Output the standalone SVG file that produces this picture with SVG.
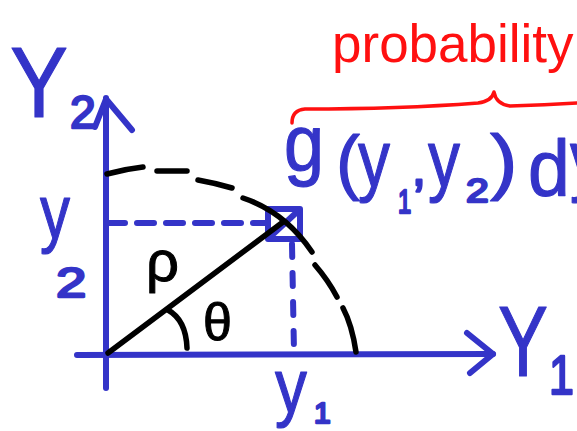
<svg xmlns="http://www.w3.org/2000/svg" width="577" height="431" viewBox="0 0 577 431">
<style>
.b{stroke:#3434C8;stroke-width:6;fill:none;stroke-linecap:round;stroke-linejoin:round}
.k{stroke:#000;stroke-width:5.5;fill:none;stroke-linecap:round;stroke-linejoin:round}
.r{stroke:#FF1010;stroke-width:3.5;fill:none;stroke-linecap:round;stroke-linejoin:round}
.tb{fill:#3434C8;stroke:#3434C8;stroke-width:1.2;stroke-linejoin:round;font-family:"Liberation Sans","DejaVu Sans",sans-serif}
.ts{stroke-width:2.4}
.tk{fill:#000;stroke:#000;stroke-width:1;stroke-linejoin:round;font-family:"Liberation Sans","DejaVu Sans",sans-serif}
.tr{fill:#FF1010;font-family:"Liberation Sans","DejaVu Sans",sans-serif}
</style>
<rect width="577" height="431" fill="#fff"/>
<g id="axes">
<path class="b" d="M106,98 L106,388"/>
<path class="b" d="M95,127 L106,99 L132,130"/>
<path class="b" d="M77,355 L493,354"/>
<path class="b" d="M467,333 L493,354 L470,373"/>
</g>
<g id="guides">
<path class="b" d="M108,223 L268,223" stroke-dasharray="17 12"/>
<path class="b" d="M292,244 L294,352" stroke-dasharray="13 16" stroke-width="5.5"/>
<rect id="cell" class="b" x="268" y="209" width="32" height="30" stroke-width="5"/>
<path class="b" d="M297,212 L271,236" stroke-width="4"/>
</g>
<g id="arc" class="k">
<path d="M107,174 Q125,169 143,167"/>
<path d="M157,171 L187,171"/>
<path d="M198,180 Q215,183 232,188"/>
<path d="M243,198 Q285,212 312,252"/>
<path d="M315,265 Q328,280 337,297"/>
<path d="M343,308 Q352,325 356,352"/>
</g>
<g id="radius" class="k">
<path d="M108,353 L283,222"/>
<path d="M168,310 Q186,320 187,348"/>
</g>
<g id="labels">
<text class="tb" transform="translate(10,117) scale(0.87,1)" font-size="100">Y</text>
<text class="tb ts" x="70" y="128" font-size="46">2</text>
<text class="tb" transform="translate(40,238) scale(0.79,1)" font-size="76">y</text>
<text class="tb ts" transform="translate(56,297) scale(1.3,1)" font-size="42">2</text>
<text class="tb" transform="translate(498,376) scale(0.75,1)" font-size="100">Y</text>
<text class="tb ts" transform="translate(549,394) scale(0.8,1)" font-size="56">1</text>
<text class="tb" transform="translate(275,412) scale(0.84,1)" font-size="76">y</text>
<text class="tb ts" x="314" y="423" font-size="30">1</text>
<text class="tk" x="146" y="281" font-size="58">ρ</text>
<text class="tk" x="203" y="340" font-size="52">θ</text>
</g>
<g id="expression">
<text class="tb" transform="translate(284,170) scale(0.9,1)" font-size="80">g</text>
<text class="tb" x="336" y="186" font-size="72">(</text>
<text class="tb" transform="translate(358,186) scale(0.8,1)" font-size="80">y</text>
<text class="tb ts" transform="translate(398,213) scale(0.7,1)" font-size="34">1</text>
<text class="tb ts" x="412" y="185" font-size="50">,</text>
<text class="tb" transform="translate(428,186) scale(0.8,1)" font-size="80">y</text>
<text class="tb ts" transform="translate(466,202) scale(1.2,1)" font-size="34">2</text>
<text class="tb" transform="translate(490,186) scale(1.15,1)" font-size="72">)</text>
<text class="tb" transform="translate(528,196) scale(0.94,1)" font-size="80">d</text>
<text class="tb" transform="translate(570,186) scale(0.8,1)" font-size="80">y</text>
</g>
<g id="annotation">
<path class="r" d="M292,123 Q292,110 305,109 Q400,109 478,103 Q492,101 494,92 Q496,104 510,106 Q545,105 577,103"/>
<text class="tr" x="332" y="62" font-size="53">probability</text>
</g>
</svg>
